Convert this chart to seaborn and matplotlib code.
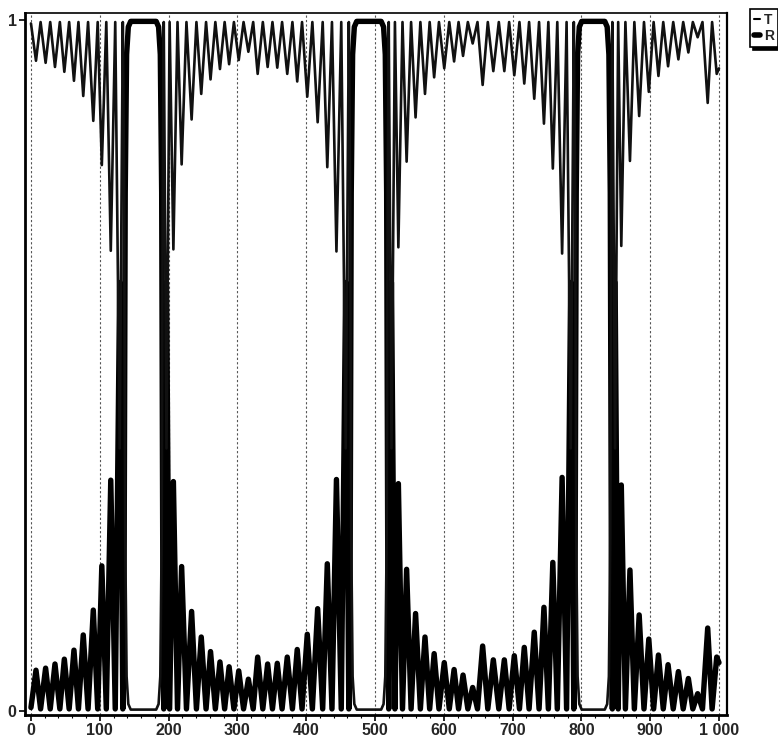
import matplotlib
matplotlib.use("Agg")
import matplotlib.pyplot as plt
from matplotlib.lines import Line2D
from matplotlib.ticker import MultipleLocator
import seaborn as sns
import pandas as pd

# ---- data (reflection R; T = 1 - R) ----
r_x = [0, 7.3, 14, 21.3, 28, 34.9, 42, 48.5, 55.5, 62.5, 69, 76, 83, 90.6, 97, 103, 109.5,
       116, 122.5, 129, 133.5,
       135.5, 137, 139, 141.5, 145, 182, 185.5, 188, 190, 191.5,
       193, 197, 201.5, 207, 213, 219, 226, 233.5, 240.5, 247.5, 254.5, 261, 268, 274.7,
       281.5, 288, 295, 302, 309, 316, 323, 329.5, 337, 344, 351, 358, 365, 372.5, 380,
       387, 394, 401.6, 409, 416.7, 424, 430.7, 437.5, 444, 451, 457.5, 462,
       464, 465.5, 467.5, 470, 473.5, 509, 512.5, 515, 517, 518.5,
       520, 524, 529, 534, 540, 546, 552.5, 559, 566, 572.7, 579.5, 586, 593, 600.7, 608,
       615, 621.5, 628, 635, 642, 649, 656.5, 664, 672, 680, 688, 695, 702.5, 710, 717,
       724, 731.5, 738.5, 745.6, 752, 758.5, 765, 772, 778.5, 784.5, 789,
       791, 792.5, 794.5, 797, 800.5, 834, 837.5, 840, 842, 843.5,
       845, 849, 853.5, 858, 864, 870.6, 877, 884, 891, 898, 905, 912, 919, 926, 933.5,
       941, 948, 955.5, 962, 969, 976, 983.6, 990, 996.7, 1000]
r_y = [0.005, 0.059, 0.003, 0.062, 0.003, 0.068, 0.003, 0.075, 0.003, 0.088, 0.003, 0.110, 0.003, 0.146, 0.003, 0.210, 0.003,
       0.334, 0.003, 0.62, 0.003,
       0.25, 0.75, 0.95, 0.99, 0.998, 0.998, 0.99, 0.95, 0.75, 0.25,
       0.003, 0.62, 0.003, 0.332, 0.003, 0.209, 0.003, 0.144, 0.003, 0.107, 0.003, 0.086, 0.003, 0.071,
       0.003, 0.064, 0.003, 0.058, 0.003, 0.046, 0.003, 0.078, 0.003, 0.068, 0.003, 0.069, 0.003, 0.078, 0.003,
       0.089, 0.003, 0.111, 0.003, 0.148, 0.003, 0.213, 0.003, 0.335, 0.003, 0.62, 0.003,
       0.25, 0.75, 0.95, 0.99, 0.998, 0.998, 0.99, 0.95, 0.75, 0.25,
       0.003, 0.62, 0.003, 0.329, 0.003, 0.205, 0.003, 0.141, 0.003, 0.107, 0.003, 0.083, 0.003, 0.070, 0.003,
       0.060, 0.003, 0.052, 0.003, 0.034, 0.003, 0.094, 0.003, 0.074, 0.003, 0.074, 0.003, 0.080, 0.003, 0.092,
       0.003, 0.114, 0.003, 0.150, 0.003, 0.215, 0.003, 0.338, 0.003, 0.62, 0.003,
       0.25, 0.75, 0.95, 0.99, 0.998, 0.998, 0.99, 0.95, 0.75, 0.25,
       0.003, 0.62, 0.003, 0.327, 0.003, 0.204, 0.003, 0.139, 0.003, 0.104, 0.003, 0.081, 0.003, 0.067, 0.003,
       0.057, 0.003, 0.047, 0.003, 0.025, 0.003, 0.120, 0.003, 0.078, 0.07]
t_y = [1 - v for v in r_y]  # transmission of a lossless stack

x_ticks = [0, 100, 200, 300, 400, 500, 600, 700, 800, 900, 1000]
x_tick_labels = ["0", "100", "200", "300", "400", "500", "600", "700", "800", "900", "1 000"]
y_ticks = [0, 1]
y_tick_labels = ["0", "1"]
series_names = ["T", "R"]

df = pd.DataFrame({"x": r_x, "R": r_y, "T": t_y})

sns.set_style("white")
plt.rcParams["font.family"] = ["Liberation Sans", "DejaVu Sans"]
plt.rcParams["font.weight"] = "bold"

fig = plt.figure(figsize=(7.78, 7.43), dpi=100)
ax = fig.add_axes([0.0321, 0.0377, 0.9023, 0.9448])

sns.lineplot(data=df, x="x", y="R", ax=ax, color="black", linewidth=3.9,
             estimator=None, sort=False, solid_joinstyle="round",
             solid_capstyle="round", zorder=3)
sns.lineplot(data=df, x="x", y="T", ax=ax, color="#111111", linewidth=1.9,
             estimator=None, sort=False, solid_joinstyle="round",
             solid_capstyle="round", zorder=4)

ax.set_xlim(-8.7, 1011.6)
ax.set_ylim(-0.0058, 1.0101)
ax.set_xticks(x_ticks)
ax.set_xticklabels(x_tick_labels, fontsize=11.5, fontweight="bold")
ax.set_yticks(y_ticks)
ax.set_yticklabels(y_tick_labels, fontsize=11.5, fontweight="bold")
ax.xaxis.set_minor_locator(MultipleLocator(20))
ax.tick_params(axis="both", which="major", direction="out", length=4, width=1.2,
               color="black", pad=2, bottom=True, left=True)
ax.tick_params(axis="x", which="minor", direction="out", length=2, width=0.8,
               color="black", bottom=True)
ax.set_xlabel("")
ax.set_ylabel("")
ax.grid(axis="x", which="major", linestyle=(0, (2, 2)), color="#555555", linewidth=0.8)
ax.grid(axis="y", visible=False)
for side, lw in [("left", 2.0), ("bottom", 2.0), ("right", 1.6), ("top", 1.2)]:
    ax.spines[side].set_visible(True)
    ax.spines[side].set_color("black")
    ax.spines[side].set_linewidth(lw)

handles = [Line2D([0], [0], color="black", linewidth=1.5),
           Line2D([0], [0], color="black", linewidth=4.0)]
leg = fig.legend(handles, series_names, loc="upper left",
                 bbox_to_anchor=(750 / 778, 1 - 9 / 743), frameon=True,
                 fancybox=False, shadow={"color": "black", "alpha": 1},
                 edgecolor="black", framealpha=1, handlelength=0.45,
                 handletextpad=0.25, borderpad=0.3, borderaxespad=0,
                 labelspacing=0.1, prop={"weight": "bold", "size": 10})
leg.get_frame().set_linewidth(1.2)

fig.savefig("out.png", dpi=100)
